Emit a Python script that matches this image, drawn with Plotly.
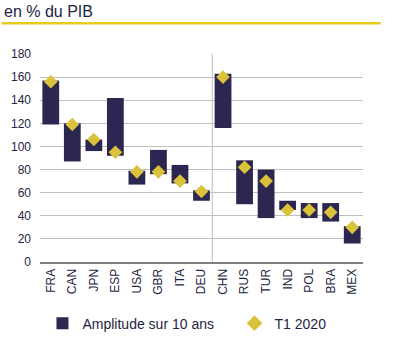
import plotly.graph_objects as go

countries = ["FRA", "CAN", "JPN", "ESP", "USA", "GBR", "ITA", "DEU",
             "CHN", "RUS", "TUR", "IND", "POL", "BRA", "MEX"]
range_low = [119, 87, 96, 92, 67, 76, 68, 53, 116, 50, 38, 45, 38, 35, 16]
range_high = [157, 120, 106, 142, 79, 97, 84, 62, 163, 88, 80, 53, 51, 51, 31]
t1_2020 = [156, 119, 106, 95, 78, 78, 70, 61, 160, 82, 70, 45, 45, 43, 30]
y_ticks = [0, 20, 40, 60, 80, 100, 120, 140, 160, 180]

navy = "#2b2750"
gold = "#dbc23b"
txt = "#1c2541"
font = "Liberation Sans, Arial, sans-serif"

fig = go.Figure()
fig.add_trace(go.Bar(
    x=countries,
    y=[h - l for h, l in zip(range_high, range_low)],
    base=range_low,
    marker=dict(color=navy, line=dict(width=0)),
    width=0.78,
    name="Amplitude sur 10 ans\u00a0\u00a0\u00a0\u00a0",
))
fig.add_trace(go.Scatter(
    x=countries, y=t1_2020, mode="markers",
    marker=dict(symbol="diamond", size=10.5, color=gold),
    name="T1 2020",
))

fig.add_shape(type="line", xref="x", yref="y", x0=7.5, x1=7.5, y0=0, y1=180,
              line=dict(color="#bfbfbf", width=1), layer="below")
fig.add_shape(type="line", xref="paper", yref="paper", x0=-0.118, x1=1.055,
              y0=1.148, y1=1.148, line=dict(color="#e8cc1c", width=2.5))

fig.add_annotation(text="en % du PIB", xref="paper", yref="paper",
                   x=-0.118, y=1.205, xanchor="left", yanchor="middle",
                   showarrow=False, font=dict(size=16, color=txt, family=font))

fig.update_layout(
    width=400, height=337,
    margin=dict(l=40, r=37, t=54, b=75, autoexpand=False),
    paper_bgcolor="white", plot_bgcolor="white",
    font=dict(family=font, color=txt, size=12),
    showlegend=True,
    legend=dict(orientation="h", x=0.455, xanchor="center", y=-0.296,
                yanchor="middle", font=dict(size=14, color=txt),
                itemwidth=30, itemsizing="constant"),
)
fig.update_xaxes(tickangle=-90, showgrid=False, tickfont=dict(size=12, color=txt),
                 showline=True, linecolor="#808080", linewidth=2, ticks="",
                 range=[-0.5, 14.5], automargin=False)
fig.update_yaxes(range=[0, 180], tickvals=y_ticks, showgrid=True, gridcolor="#c0c0c0",
                 gridwidth=1, zeroline=False, tickfont=dict(size=12, color=txt),
                 ticks="", ticklabelstandoff=8, automargin=False)

fig.write_html("out.html")
